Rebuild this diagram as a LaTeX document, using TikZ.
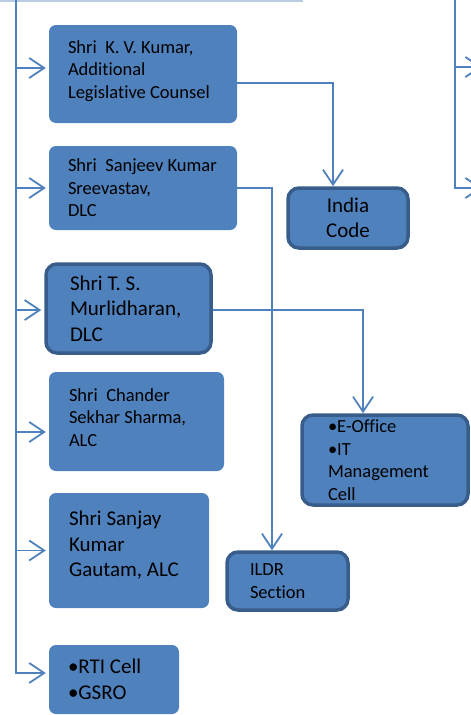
\documentclass[tikz,border=0pt]{standalone}
\usepackage{fontspec}
\setmainfont{Carlito}[Ligatures=NoCommon]
\usepackage{tikz}
\usetikzlibrary{arrows.meta}
\definecolor{unitblue}{HTML}{4F81BD}
\definecolor{edgeblue}{HTML}{385D8A}
\definecolor{paleblue}{HTML}{B9CDE5}
\frenchspacing

\begin{document}
\begin{tikzpicture}[x=1pt, y=-1pt]
		\tikzstyle{Unit}	= [rectangle, rounded corners=7pt, fill=unitblue, align=flush left, inner xsep=0pt, inner ysep=0pt, font=\fontsize{18.5}{22.5}\selectfont]
		\tikzstyle{Big}		= [font=\fontsize{21}{25.5}\selectfont]
		\tikzstyle{Cell}	= [draw=edgeblue, line width=3.5pt, rounded corners=11pt]
		\tikzstyle{Trunk}	= [draw=unitblue, line width=1.8pt]
		\tikzstyle{Link}	= [Trunk, -{Straight Barb[length=15pt, width=20pt]}]

		\clip (0,0) rectangle (471,715);

		\coordinate (top) at (16,0);
		\coordinate (topR) at (455,0);
		\coordinate (topend) at (303,0);
		\coordinate (outA) at (482,67);
		\coordinate (outB) at (482,188);

		\node (kvk) at (143,74) [Unit, minimum width=188pt, minimum height=98pt, text width=150pt, text height=7pt] {Shri~~K.~V.~Kumar,\\Additional\\Legislative~Counsel};
		\node (sanjeev) at (143,188) [Unit, minimum width=188pt, minimum height=84pt, text width=150pt] {Shri~~Sanjeev~Kumar\\Sreevastav,\\DLC};
		\node (murli) at (128.5,308.5) [Unit][Cell][Big, minimum width=165pt, minimum height=89pt, text width=117pt] {Shri T. S.\\Murlidharan,\\DLC};
		\node (chander) at (136.5,421.5) [Unit, minimum width=175pt, minimum height=99pt, text width=135pt, text height=5pt] {Shri~~Chander\\Sekhar~Sharma,\\ALC};
		\node (sanjay) at (129,550.5) [Unit][Big, minimum width=160pt, minimum height=115pt, text width=120pt, text height=4pt] {Shri Sanjay\\Kumar\\Gautam,~ALC};
		\node (rti) at (114,679.5) [Unit][Big, minimum width=130pt, minimum height=69pt, text width=92pt] {•RTI Cell\\•GSRO};
		\node (icode) at (348,218) [Unit][Cell][Big, minimum width=120pt, minimum height=60pt, text width=100pt, align=center] {India\\Code};
		\node (ildr) at (287.5,581) [Unit][Cell][minimum width=121pt, minimum height=58pt, text width=75pt] {ILDR\\Section};
		\node (eoffice) at (385,460) [Unit][Cell][minimum width=166pt, minimum height=90pt, text width=114pt] {•E-Office\\•IT\\Management\\Cell};

		\coordinate (kvk-in) at ([yshift=6pt]kvk.west);
		\coordinate (sanjeev-in) at (sanjeev.west);
		\coordinate (murli-in) at ([yshift=-1.5pt]murli.west);
		\coordinate (chander-in) at ([yshift=-10.5pt]chander.west);
		\coordinate (sanjay-in) at (sanjay.west);
		\coordinate (rti-in) at ([yshift=6.5pt]rti.west);

		\draw [paleblue, line width=2pt] (0,1) -- (topend |- 0,1);
		\draw [Link, shorten >=3pt] (top) |- (rti-in);
		\draw [Link, shorten >=3pt] (top |- kvk-in) to (kvk-in);
		\draw [Link, shorten >=3pt] (top |- sanjeev-in) to (sanjeev-in);
		\draw [Link, shorten >=3pt] (top |- murli-in) to (murli-in);
		\draw [Link, shorten >=3pt] (top |- chander-in) to (chander-in);
		\draw [Link, shorten >=3pt] (top |- sanjay-in) to (sanjay-in);

		\draw [Link] (topR) |- (outB);
		\draw [Link] (topR |- outA) to (outA);

		\draw [Link] ([yshift=-9pt]kvk.east) -| ([xshift=-15pt]icode.north);
		\draw [Link] (sanjeev.east) -| ([xshift=-15.5pt]ildr.north);
		\draw [Link] ([yshift=-1.5pt]murli.east) -| ([xshift=-22pt]eoffice.north);
	\end{tikzpicture}
\end{document}
